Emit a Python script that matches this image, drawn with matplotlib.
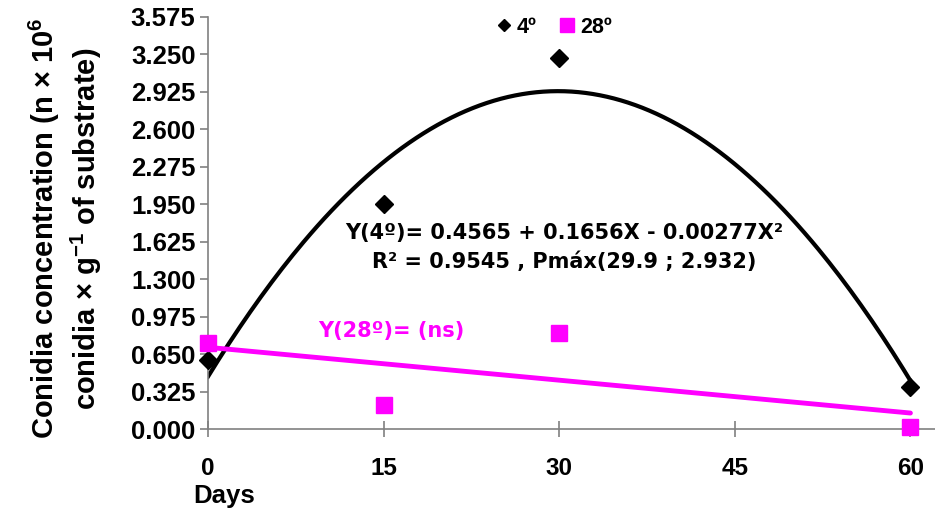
import matplotlib.pyplot as plt
import numpy as np
from matplotlib.lines import Line2D

plt.rcParams["font.family"] = ["Liberation Sans", "DejaVu Sans"]
plt.rcParams["font.weight"] = "bold"
plt.rcParams["mathtext.fontset"] = "custom"
plt.rcParams["mathtext.rm"] = "Liberation Sans:bold"
plt.rcParams["mathtext.default"] = "rm"

days = [0, 15, 30, 60]
conc_4 = [0.60, 1.95, 3.22, 0.37]
conc_28 = [0.75, 0.21, 0.83, 0.02]

# fitted trend for 4º (coefficients printed on the chart)
fit_4 = [-0.00277, 0.1656, 0.4565]
# non-significant linear trend for 28º, end points
trend_28_x = [0, 60]
trend_28_y = [0.71, 0.14]

yticks = [0.000, 0.325, 0.650, 0.975, 1.300, 1.625, 1.950, 2.275, 2.600, 2.925, 3.250, 3.575]
xticks = [0, 15, 30, 45, 60]

fig = plt.figure(figsize=(9.35, 5.14), dpi=100)
ax = fig.add_axes([0.2225, 0.165, 0.7775, 0.802])

xs = np.linspace(0, 60, 200)
ax.plot(xs, np.polyval(fit_4, xs), color="black", lw=3, zorder=2)
ax.plot(trend_28_x, trend_28_y, color="#ff00ff", lw=3.5, zorder=2, solid_capstyle="round")
ax.plot(days, conc_4, "D", color="black", ms=9, ls="none", clip_on=False, zorder=3)
ax.plot(days, conc_28, "s", color="#ff00ff", ms=11, ls="none", clip_on=False, zorder=3)

ax.set_xlim(0, 62.1)
ax.set_ylim(0, 3.575)
ax.set_xticks(xticks)
ax.set_yticks(yticks)
ax.set_yticklabels([f"{v:.3f}" for v in yticks])
ax.tick_params(axis="y", direction="out", length=6, width=1.2, color="#808080", labelsize=18.5, pad=3)
ax.tick_params(axis="x", direction="inout", length=12, width=1.2, color="#808080", labelsize=17.5, pad=14)
for side in ["top", "right"]:
    ax.spines[side].set_visible(False)
for side in ["left", "bottom"]:
    ax.spines[side].set_color("#808080")
    ax.spines[side].set_linewidth(1.2)

ax.set_xlabel("Days", fontsize=18.5, fontweight="bold", loc="left", va="center")
ax.xaxis.set_label_coords(-0.02, -0.162)

fig.text(0.047, 0.555, "Conidia concentration (n × 10$^{6}$", rotation=90, fontsize=21,
         ha="center", va="center")
fig.text(0.092, 0.555, "conidia × g$^{-1}$ of substrate)", rotation=90, fontsize=21,
         ha="center", va="center")

ann = ["DejaVu Sans", "Liberation Sans"]
ax.text(0.49, 0.405 + 0.07, "Y(4º)= 0.4565 + 0.1656X - 0.00277X²", transform=ax.transAxes,
        ha="center", va="center", fontsize=15, family=ann)
ax.text(0.49, 0.405, "R² = 0.9545 , Pmáx(29.9 ; 2.932)", transform=ax.transAxes,
        ha="center", va="center", fontsize=15, family=ann)
ax.text(0.152, 0.237, "Y(28º)= (ns)", transform=ax.transAxes, ha="left", va="center",
        fontsize=15, color="#ff00ff", family=ann)

handles = [
    Line2D([], [], marker="D", color="black", ls="none", ms=6),
    Line2D([], [], marker="s", color="#ff00ff", ls="none", ms=10),
]
ax.legend(handles, ["4º", "28º"], loc="upper center", bbox_to_anchor=(0.474, 1.048), ncol=2,
          frameon=False, fontsize=15.5, handletextpad=0.1, columnspacing=0.9, handlelength=1.0)

fig.savefig("out.png", dpi=100)
